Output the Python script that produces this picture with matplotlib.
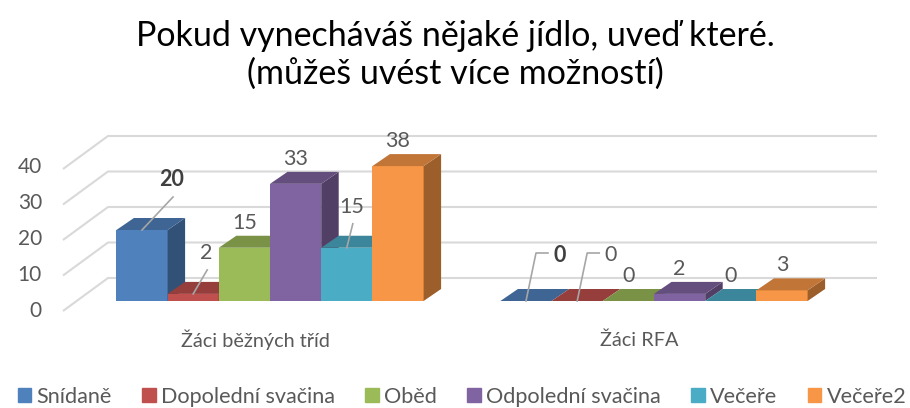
import numpy as np
import matplotlib.pyplot as plt
from matplotlib.patches import Polygon

# chart data
categories = ['Žáci běžných tříd', 'Žáci RFA']
series = ['Snídaně', 'Dopolední svačina', 'Oběd', 'Odpolední svačina', 'Večeře', 'Večeře2']
values = [
    [20, 0],   # Snídaně
    [2, 0],    # Dopolední svačina
    [15, 0],   # Oběd
    [33, 2],   # Odpolední svačina
    [15, 0],   # Večeře
    [38, 3],   # Večeře2
]
yticks = [0, 10, 20, 30, 40]

colors = ['#4F81BD', '#C0504D', '#9BBB59', '#8064A2', '#4BACC6', '#F79646']
text_col = '#595959'

plt.rcParams['font.family'] = ['Lato', 'DejaVu Sans']

W, H = 910, 408
fig = plt.figure(figsize=(W / 100, H / 100), dpi=100)
ax = fig.add_axes([0, 0, 1, 1])

# pixel layout of the fake 3d plot
X0, SX = 270.0, 384.0     # px of category 0, px per category
Y0, SY = 301.0, 3.55      # px (from top) of value 0, px per value
ax.set_xlim(-X0 / SX, (W - X0) / SX)
ax.set_ylim(-(H - Y0) / SY, Y0 / SY)
ax.axis('off')

def px(dx):
    return dx / SX

def py(dy):
    return dy / SY

def shade(c, f):
    r, g, b = [int(c[i:i + 2], 16) / 255 for i in (1, 3, 5)]
    return (r * f, g * f, b * f)

ddx, ddy = px(17.5), py(12)

# back wall gridlines + floor diagonals
for v in yticks:
    xs = [px(63 - X0), px(108 - X0), px(877 - X0)]
    ys = [v - py(10), v + py(23), v + py(23)]
    ax.plot(xs, ys, color='#d9d9d9', lw=1.5, zorder=1, solid_capstyle='butt')
    ax.text(px(42 - X0), v * 3.6 / SY - py(10), str(v), ha='right', va='center',
            fontsize=15, color=text_col)

# bars
n = len(series)
width = 0.8 / n
z = 2
for ci in range(len(categories)):
    for si in range(n):
        v = values[si][ci]
        x0 = ci - 0.4 + si * width
        x1 = x0 + width
        col = colors[si]
        ax.bar(x0, v, width=width, align='edge', color=col, zorder=z, lw=0)
        top = Polygon([(x0, v), (x1, v), (x1 + ddx, v + ddy), (x0 + ddx, v + ddy)],
                      closed=True, facecolor=shade(col, 0.78), lw=0, zorder=z)
        side = Polygon([(x1, 0), (x1 + ddx, ddy), (x1 + ddx, v + ddy), (x1, v)],
                       closed=True, facecolor=shade(col, 0.63), lw=0, zorder=z)
        ax.add_patch(side)
        ax.add_patch(top)
        z += 1

# data labels: offsets in px from front-top centre of the bar
offsets = {
    (0, 0): (30, 50), (1, 0): (13, 41), (4, 0): (5, 41),
    (0, 1): (34, 46), (1, 1): (33, 46),
}
for ci in range(len(categories)):
    for si in range(n):
        v = values[si][ci]
        xc = ci - 0.4 + (si + 0.5) * width
        ox, oy = offsets.get((si, ci), (0, 25))
        tx, ty = xc + px(ox), v + py(oy)
        ax.text(tx, ty, str(v), ha='center', va='center', fontsize=15.5,
                color='#404040' if si == 0 else text_col,
                fontweight='bold' if si == 0 else 'normal', zorder=50)
        if (si, ci) in offsets:
            if ci == 0:
                ax.plot([xc, tx + px(1)], [v, ty - py(17)], color='#a6a6a6', lw=1.2, zorder=49)
            else:
                ax.plot([xc, xc + px(10), xc + px(22)], [v, v + py(48), v + py(48)],
                        color='#a6a6a6', lw=1.2, zorder=49)

for ci, cat in enumerate(categories):
    ax.text(ci + px(-15), py(301 - 340), cat, ha='center', va='center',
            fontsize=14.3, color=text_col)

# title
fig.text(0.5, 1 - 36 / H, 'Pokud vynecháváš nějaké jídlo, uveď které.', ha='center',
         va='center', fontsize=24.5, color='black')
fig.text(0.5, 1 - 74 / H, '(můžeš uvést více možností)', ha='center',
         va='center', fontsize=24.5, color='black')

# legend
handles = [plt.Rectangle((0, 0), 1, 1, color=c) for c in colors]
fig.legend(handles, series, loc='center', bbox_to_anchor=(462 / W, 1 - 397 / H), ncol=n,
           frameon=False, fontsize=15.6, labelcolor=text_col, handlelength=0.62,
           handleheight=0.62, handletextpad=0.25, columnspacing=1.4,
           borderpad=0, borderaxespad=0)

plt.savefig('out.png', dpi=100)
